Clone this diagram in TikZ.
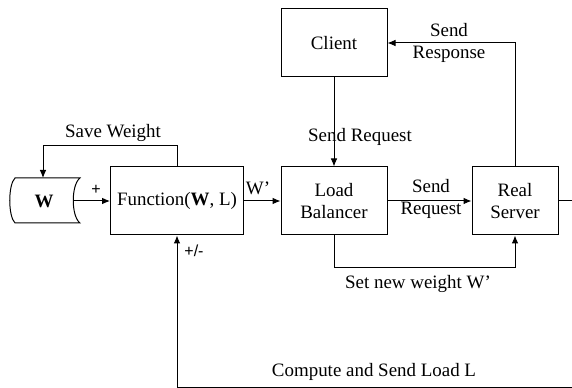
\documentclass[tikz,border=0pt]{standalone}
\usepackage{fontspec}
\setmainfont{Liberation Serif}
\newfontfamily\signfont{Liberation Sans}
\usepackage{tikz}
\usetikzlibrary{arrows.meta}

\begin{document}
\begin{tikzpicture}[x=0.75pt,y=0.75pt,yscale=-1,xscale=1,
    font=\fontsize{14.2}{16}\selectfont,
    block/.style={draw,line width=0.75,inner sep=0pt,align=center,minimum height=51pt},
    link/.style={line width=0.75,-{Latex[length=6pt,width=5pt]}},
    lbl/.style={inner sep=0.75pt,align=center},
    sign/.style={inner sep=0.75pt,font=\signfont\fontsize{12}{13}\selectfont}]
    \useasboundingbox (0,0) rectangle (572,388);
    \clip (0,0) rectangle (572,388);

    %Shape: Stored Data [id:wstore]
    \draw [line width=0.75] (15,178) -- (80,178) .. controls (71,185) and (71,216) .. (80,223) -- (15,223) .. controls (8,216) and (8,185) .. (15,178) -- cycle ;
    \node (wdata) at (44,201) {\textbf{W}};
    \coordinate (wout) at (73,201);
    \coordinate (win) at (43,178);

    %Shape: Rectangle [id:func]
    \node [block,minimum width=99.75pt] (func) at (177,201) {Function(\textbf{W}, L)};
    %Shape: Rectangle [id:lb]
    \node [block,minimum width=79.5pt] (lb) at (334,201) {Load\\Balancer};
    %Shape: Rectangle [id:client]
    \node [block,minimum width=79.5pt] (client) at (334,43) {Client};
    %Shape: Rectangle [id:srv]
    \node [block,minimum width=64.5pt] (srv) at (515,201) {Real\\Server};

    % bend points
    \coordinate (savebend) at (43,146);
    \coordinate (setbend) at (334,268);
    \coordinate (loopr) at (600,201);
    \coordinate (loopb) at (177,387.5);

    %Straight Lines
    \draw [link] (wout) -- (func.west);
    \draw [link] (func.north) |- (savebend) -- (win);
    \draw [link] (func.east) -- (lb.west);
    \draw [link] (client.south) -- (lb.north);
    \draw [link] (lb.east) -- (srv.west);
    \draw [link] (srv.north) |- (client.east);
    \draw [link] (lb.south) -- (setbend) -| (srv.south);
    \draw [link] (srv.east) -- (loopr) |- (loopb) -- (func.south);

    % Text Node
    \node [lbl] (tsave) at (113,133) {Save Weight};
    % Text Node
    \node [sign] (tplus) at (96,190) {+};
    % Text Node
    \node [lbl] (twnew) at (258,188) {W’};
    % Text Node
    \node [lbl] (treq) at (360,137) {Send Request};
    % Text Node
    \node [lbl] (tresp) at (449,43) {Send\\Response};
    % Text Node
    \node [lbl] (treq2) at (431,199) {Send\\Request};
    % Text Node
    \node [lbl] (tset) at (418,284) {Set new weight W’};
    % Text Node
    \node [sign] (tpm) at (194,251) {+/-};
    % Text Node
    \node [lbl] (tload) at (374,372) {Compute and Send Load L};

\end{tikzpicture}
\end{document}
